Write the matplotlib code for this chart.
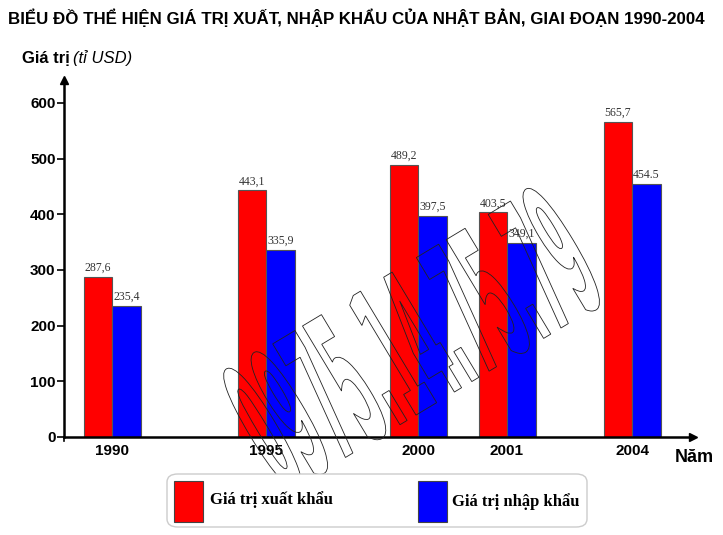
import matplotlib
matplotlib.use("Agg")
import matplotlib.pyplot as plt
from matplotlib.patches import FancyBboxPatch, Rectangle, PathPatch
from matplotlib.textpath import TextPath
from matplotlib.font_manager import FontProperties
from matplotlib.transforms import Affine2D

years = ["1990", "1995", "2000", "2001", "2004"]
xuat_khau = [287.6, 443.1, 489.2, 403.5, 565.7]
nhap_khau = [235.4, 335.9, 397.5, 349.1, 454.5]
lbl_xuat = ["287,6", "443,1", "489,2", "403,5", "565,7"]
lbl_nhap = ["235,4", "335,9", "397,5", "349,1", "454.5"]
watermark = "0975.14.75.79"

# vi tri nhom cot tren truc x (khoang cach khong deu nhu hinh goc)
x_pos = [48, 202, 354, 443, 568]
w = 28.5

fig = plt.figure(figsize=(7.23, 5.35), dpi=100)
ax = fig.add_axes([64 / 723, 1 - 437 / 535, 629 / 723, 357 / 535])
ax.set_xlim(0, 629)
ax.set_ylim(0, 641)

xl = [p - w / 2 for p in x_pos]
xr = [p + w / 2 for p in x_pos]
ax.bar(xl, xuat_khau, w, color='#ff0000', edgecolor='#555555', lw=0.8, zorder=2)
ax.bar(xr, nhap_khau, w, color='#0000ff', edgecolor='#555555', lw=0.8, zorder=2)
for i in range(len(years)):
    ax.text(xl[i], xuat_khau[i] + 5, lbl_xuat[i], ha='center', va='bottom',
            family='Liberation Serif', fontsize=8.5, color='#333333')
    ax.text(xr[i], nhap_khau[i] + 5, lbl_nhap[i], ha='center', va='bottom',
            family='Liberation Serif', fontsize=8.5, color='#333333')

for s in ['top', 'right']:
    ax.spines[s].set_visible(False)
ax.spines['left'].set_linewidth(1.8)
ax.spines['bottom'].set_linewidth(1.8)
ax.plot(0, 1, '^k', ms=6, transform=ax.transAxes, clip_on=False)
ax.plot(1, 0, '>k', ms=6, transform=ax.transAxes, clip_on=False)

ax.set_yticks(range(0, 700, 100))
ax.set_yticklabels([str(v) for v in range(0, 700, 100)],
                   family='Liberation Sans', fontweight='bold', fontsize=11)
ax.tick_params(axis='y', length=5, width=1.2, pad=1)
ax.set_xticks([])
ax.plot([0, 0], [0, -8], 'k-', lw=1.2, clip_on=False)
for p, y in zip(x_pos, years):
    ax.text(p, -12, y, ha='center', va='top', family='Liberation Sans',
            fontweight='bold', fontsize=11)

fig.text(8 / 723, 1 - 18 / 535,
         "BIỂU ĐỒ THỂ HIỆN GIÁ TRỊ XUẤT, NHẬP KHẨU CỦA NHẬT BẢN, GIAI ĐOẠN 1990-2004",
         family='Liberation Sans', fontweight='bold', fontsize=12.2, va='center')
fig.text(22 / 723, 1 - 58 / 535, "Giá trị", family='Liberation Sans',
         fontweight='bold', fontsize=12, va='center')
fig.text(73 / 723, 1 - 58 / 535, "(tỉ USD)", family='Liberation Sans',
         style='italic', fontsize=12, va='center')
fig.text(675 / 723, 1 - 458 / 535, "Năm", family='Liberation Sans',
         fontweight='bold', fontsize=13, va='center')

# chu giai
def px(x, y):
    return x / 723, 1 - y / 535

box = FancyBboxPatch(px(167, 527), 420 / 723, 53 / 535,
                     boxstyle="round,pad=0,rounding_size=0.015",
                     transform=fig.transFigure, fc='white', ec='#cccccc', lw=1)
fig.patches.append(box)
fig.patches.append(Rectangle(px(174, 522), 29 / 723, 41 / 535, transform=fig.transFigure,
                             fc='#ff0000', ec='#444444', lw=0.8))
fig.patches.append(Rectangle(px(418, 522), 29 / 723, 41 / 535, transform=fig.transFigure,
                             fc='#0000ff', ec='#444444', lw=0.8))
fig.text(*px(210, 500), "Giá trị xuất khẩu", family='Liberation Serif',
         fontweight='bold', fontsize=12, va='center')
fig.text(*px(452, 502), "Giá trị nhập khẩu", family='Liberation Serif',
         fontweight='bold', fontsize=12, va='center')

# watermark: chu rong vien mong, nghieng
ov = fig.add_axes([0, 0, 1, 1])
ov.set_xlim(0, 723)
ov.set_ylim(0, 535)
ov.axis('off')
tp = TextPath((0, 0), watermark, size=1,
              prop=FontProperties(family='DejaVu Sans', weight='bold'))
W = tp.get_extents().x1
tr = (Affine2D().scale(380 / W, 135 / 0.73)
      .rotate_deg(31).translate(283, 535 - 495))
ov.add_patch(PathPatch(tr.transform_path(tp), fc='none', ec='#222222', lw=0.6))

fig.savefig("out.png", dpi=100)
